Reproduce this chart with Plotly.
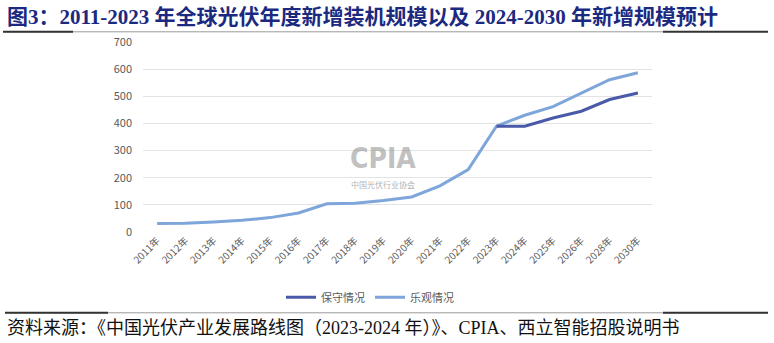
import plotly.graph_objects as go

years = ["2011年", "2012年", "2013年", "2014年", "2015年", "2016年", "2017年", "2018年", "2019年",
         "2020年", "2021年", "2022年", "2023年", "2024年", "2025年", "2026年", "2028年", "2030年"]
conservative = [None, None, None, None, None, None, None, None, None,
                None, None, None, 390, 390, 420, 445, 488, 512]
optimistic = [31, 32, 37, 43, 53, 70, 104, 106, 116,
              129, 170, 230, 390, 430, 462, 512, 561, 587]
series_names = ["保守情况", "乐观情况"]
yticks = [0, 100, 200, 300, 400, 500, 600, 700]

title_text = "图3：2011-2023 年全球光伏年度新增装机规模以及 2024-2030 年新增规模预计"
source_text = "资料来源：《中国光伏产业发展路线图（2023-2024 年）》、CPIA、西立智能招股说明书"

W, H = 774, 343
L, R, T, B = 143, 652, 41.7, 231.7


def px(x):
    return (x - L) / (R - L)


def py(y):
    return (B - y) / (B - T)


fig = go.Figure()
fig.add_trace(go.Scatter(x=years, y=optimistic, name=series_names[1], mode="lines",
                         line=dict(color="#7EA6DB", width=3), legendrank=2))
fig.add_trace(go.Scatter(x=years, y=conservative, name=series_names[0], mode="lines",
                         line=dict(color="#4A59A8", width=3), legendrank=1))

fig.update_layout(
    width=W, height=H,
    margin=dict(l=L, r=W - R, t=T, b=H - B),
    plot_bgcolor="white", paper_bgcolor="white",
    font=dict(family="Noto Sans CJK SC, Noto Sans, sans-serif", color="#595959"),
    showlegend=True,
    legend=dict(orientation="h", x=px(370), xanchor="center", y=py(297), yanchor="middle",
                font=dict(size=11, color="#595959"), itemwidth=30, bgcolor="rgba(0,0,0,0)",
                traceorder="normal"),
    xaxis=dict(type="category", categoryorder="array", categoryarray=years,
               range=[-0.5, len(years) - 0.5], showgrid=False, showline=False, zeroline=False,
               tickangle=-45, tickfont=dict(size=10, color="#595959"), ticks=""),
    yaxis=dict(range=[0, 700], tickvals=yticks, showgrid=True, gridcolor="#E3E3E3",
               gridwidth=1, zeroline=False, showline=False, ticks="",
               tickfont=dict(size=11, color="#595959"), ticklabelstandoff=10),
)

# watermark
fig.add_annotation(x=px(383), y=py(158), xref="paper", yref="paper", text="<b>CPIA</b>",
                   showarrow=False, borderpad=0,
                   font=dict(family="Liberation Sans Narrow, DejaVu Sans Condensed, DejaVu Sans",
                             size=28, color="rgba(140,140,140,0.55)"))
fig.add_annotation(x=px(383), y=py(191), xref="paper", yref="paper", text="中国光伏行业协会",
                   showarrow=False, borderpad=0, font=dict(size=8, color="rgba(120,120,120,0.6)"))

# title and source
fig.add_annotation(x=px(5), y=py(17), xref="paper", yref="paper", text="<b>" + title_text + "</b>",
                   showarrow=False, xanchor="left", yanchor="middle",
                   font=dict(family="Liberation Serif, Noto Sans CJK SC", size=21, color="#1B2A80"))
fig.add_annotation(x=px(5), y=py(328), xref="paper", yref="paper", text=source_text,
                   showarrow=False, xanchor="left", yanchor="middle",
                   font=dict(family="Liberation Serif, Noto Sans CJK SC", size=18, color="#111111"))

# separator lines
for x0, x1, yy, w, c in [
    (px(5), px(663), py(31.5), 1, "#9A9A9A"),
    (px(3), px(73), py(31.5), 2, "#333333"),
    (px(663), px(768), py(31.5), 2, "#333333"),
    (px(5), px(768), py(312.5), 1, "#9A9A9A"),
    (px(5), px(108), py(312.5), 2, "#333333"),
    (px(663), px(768), py(312.5), 2, "#333333"),
]:
    fig.add_shape(type="line", xref="paper", yref="paper", x0=x0, x1=x1, y0=yy, y1=yy,
                  line=dict(color=c, width=w))

fig.write_html("out.html")
